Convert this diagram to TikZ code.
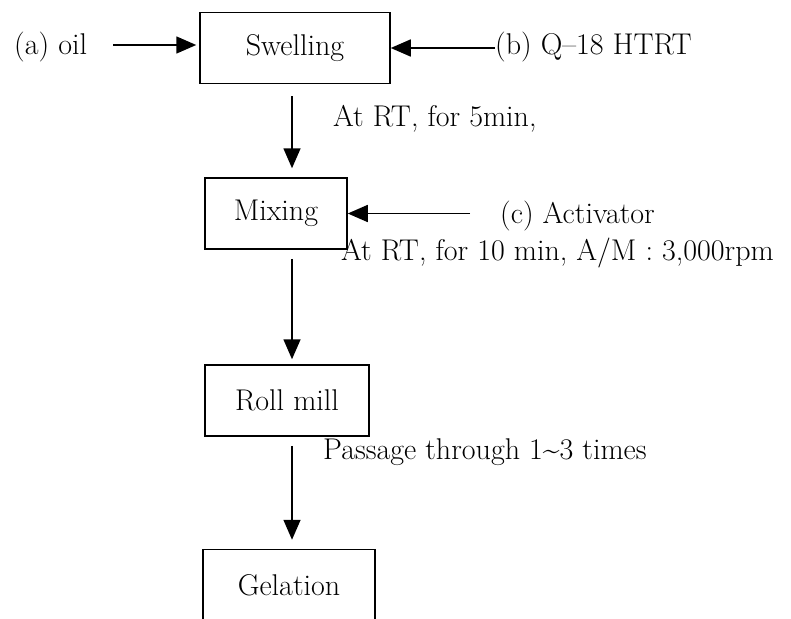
\documentclass[tikz,border=0pt]{standalone}
\usetikzlibrary{arrows.meta}
\begin{document}
\begin{tikzpicture}[x=1pt,y=1pt,yscale=-1,xscale=1,
  font=\fontsize{30pt}{36pt}\selectfont,
  stepbox/.style={draw,line width=1.5pt,minimum width=#1,minimum height=71pt,inner sep=0pt},
  flow/.style={line width=1.6pt,-{Triangle[length=20pt,width=17pt]}},
  lbl/.style={anchor=base west,inner sep=0pt}]
\clip (0,0) rectangle (791,618);

%Shape: Rectangle (steps)
\draw (295,48) node (swell) [stepbox=190pt] {Swelling};
\draw (276,213.5) node (mix) [stepbox=142pt] {Mixing};
\draw (287,400.5) node (roll) [stepbox=164pt] {Roll mill};
\draw (289,585) node (gel) [stepbox=172pt] {Gelation};

% Text Node
\draw (14,54) node (oil) [lbl] {(a) oil};
% Text Node
\draw (495,54) node (htrt) [lbl] {(b) Q--18 HTRT};
% Text Node
\draw (333,126) node (rtfive) [lbl] {At RT, for 5min,};
% Text Node
\draw (500,223) node (activ) [lbl] {(c) Activator};
% Text Node
\draw (341,260) node (rtten) [lbl] {At RT, for 10 min, A/M : 3,000rpm};
% Text Node
\draw (323,459) node (pass) [lbl] {Passage through 1\textasciitilde 3 times};

\coordinate (axis) at (292,0);
\coordinate (oilend) at (113,45);
\coordinate (actend) at (470,213.5);

%Straight Lines
\draw [flow,shorten >=3pt] (oilend) -- (swell.west |- oilend);
\draw [flow] (htrt.west |- swell.east) -- (swell.east);
\draw [flow] (actend) -- (mix.east);
\draw [flow,shorten <=12pt,shorten >=9pt] (axis |- swell.south) -- (axis |- mix.north);
\draw [flow,shorten <=9pt,shorten >=5pt] (axis |- mix.south) -- (axis |- roll.north);
\draw [flow,shorten <=9pt,shorten >=9pt] (axis |- roll.south) -- (axis |- gel.north);

\end{tikzpicture}
\end{document}
